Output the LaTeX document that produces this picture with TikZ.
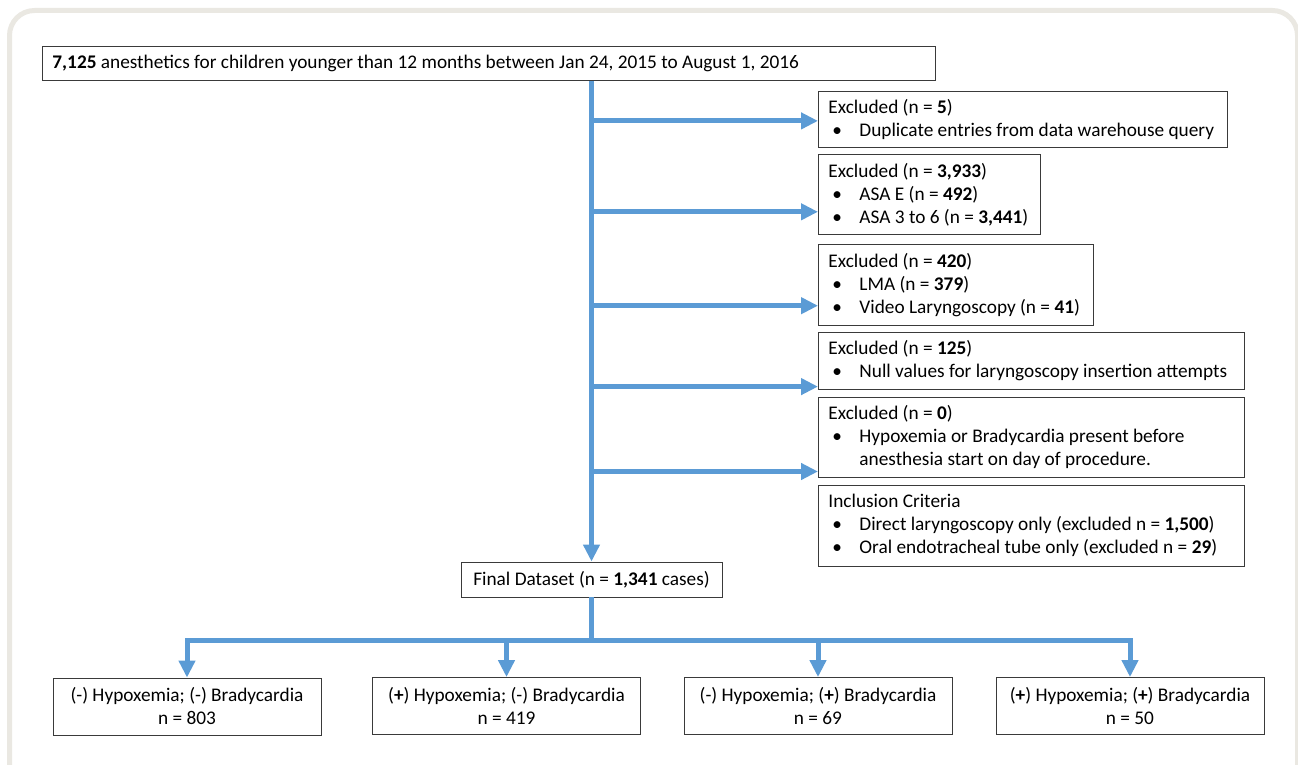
\documentclass[tikz,border=0pt]{standalone}
\usepackage{fontspec}
\setmainfont{Carlito}
\usepackage{tikz}
\usetikzlibrary{positioning, arrows.meta}
\definecolor{flowblue}{HTML}{5B9BD5}
\definecolor{framegray}{HTML}{EAE8E2}
\definecolor{boxline}{HTML}{3A3A3A}
\newcommand{\bul}{\hspace*{4pt}\makebox[27pt][l]{\textbullet}}
\tikzset{
  block/.style={rectangle, draw=boxline, line width=0.9pt, inner xsep=10pt, inner ysep=0pt, align=flush left, font=\fontsize{19.3}{23}\selectfont},
  exbox/.style={block, anchor=north west},
  outbox/.style={block, align=center, minimum width=268pt, minimum height=57pt},
  arrow/.style={-{Triangle[length=17pt, width=16pt]}, line width=5pt, draw=flowblue},
  line/.style={line width=5pt, draw=flowblue},
}

\begin{document}
\begin{tikzpicture}[x=1pt, y=-1pt]
  \useasboundingbox (0,0) rectangle (1298,765);
  \clip (0,0) rectangle (1298,765);
  \draw[framegray, line width=5pt, rounded corners=25pt] (9.5,10.5) rectangle (1297.5,800);

  \node[exbox, text width=873pt, minimum height=34pt] at (42,46) (total) {\textbf{7,125} anesthetics for children younger than 12 months between Jan 24, 2015 to August 1, 2016};

  \node[exbox, text width=389pt, minimum height=56pt] at (818,91) (ex1) {Excluded (n = \textbf{5})\\\bul Duplicate entries from data warehouse query};
  \node[exbox, text width=202pt, minimum height=80pt, below=6pt of ex1.south west, anchor=north west] (ex2) {Excluded (n = \textbf{3,933})\\\bul ASA E (n = \textbf{492})\\\bul ASA 3 to 6 (n = \textbf{3,441})};
  \node[exbox, text width=255pt, minimum height=81pt, below=9pt of ex2.south west, anchor=north west] (ex3) {Excluded (n = \textbf{420})\\\bul LMA (n = \textbf{379})\\\bul Video Laryngoscopy (n = \textbf{41})};
  \node[exbox, text width=406pt, minimum height=57pt, below=6pt of ex3.south west, anchor=north west] (ex4) {Excluded (n = \textbf{125})\\\bul Null values for laryngoscopy insertion attempts};
  \node[exbox, text width=406pt, minimum height=80pt, below=7pt of ex4.south west, anchor=north west] (ex5) {Excluded (n = \textbf{0})\\\bul Hypoxemia or Bradycardia present before\\\hspace*{31pt}anesthesia start on day of procedure.};
  \node[exbox, text width=406pt, minimum height=81pt, below=7pt of ex5.south west, anchor=north west] (incl) {Inclusion Criteria\\\bul Direct laryngoscopy only (excluded n = \textbf{1,500})\\\bul Oral endotracheal tube only (excluded n = \textbf{29})};

  \node[block, align=center, minimum width=261pt, minimum height=35pt] at (591.5,579.5) (final) {Final Dataset (n = \textbf{1,341} cases)};

  \node[outbox] at (187,706.5) (g1) {(-) Hypoxemia; (-) Bradycardia\\n = 803};
  \node[outbox] at (506.5,706) (g2) {(\textbf{+}) Hypoxemia; (-) Bradycardia\\n = 419};
  \node[outbox] at (818,706) (g3) {(-) Hypoxemia; (\textbf{+}) Bradycardia\\n = 69};
  \node[outbox] at (1130,706) (g4) {(\textbf{+}) Hypoxemia; (\textbf{+}) Bradycardia\\n = 50};

  \coordinate (a1) at ([yshift=27pt]ex1.south west);
  \coordinate (a2) at ([yshift=23pt]ex2.south west);
  \coordinate (a3) at ([yshift=20pt]ex3.south west);
  \coordinate (a4) at ([yshift=3pt]ex4.south west);
  \coordinate (a5) at ([yshift=6pt]ex5.south west);
  \coordinate (bus) at ([yshift=-43pt]final.south);

  \draw[arrow] (final.north |- total.south) -- (final.north);
  \draw[arrow] (a1 -| final.north) -- (a1);
  \draw[arrow] (a2 -| final.north) -- (a2);
  \draw[arrow] (a3 -| final.north) -- (a3);
  \draw[arrow] (a4 -| final.north) -- (a4);
  \draw[arrow] (a5 -| final.north) -- (a5);

  \draw[line] (final.south) -- (bus);
  \draw[arrow] (bus) -| (g1);
  \draw[arrow] (bus) -| (g4);
  \draw[arrow] (g2 |- bus) -- (g2);
  \draw[arrow] (g3 |- bus) -- (g3);
\end{tikzpicture}
\end{document}
